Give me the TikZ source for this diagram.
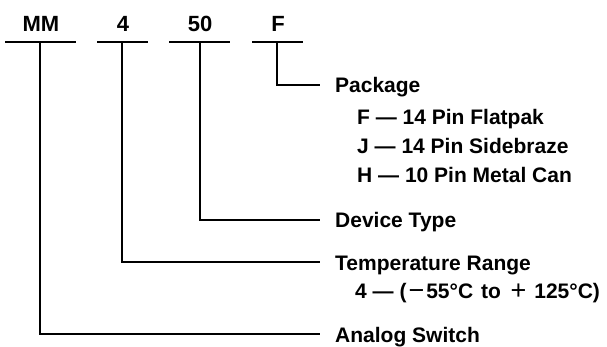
\documentclass[tikz,border=0pt]{standalone}
\usepackage{fontspec}
\setmainfont{Liberation Sans}
\usepackage{tikz}
\usetikzlibrary{positioning}
\tikzset{
  code/.style={font=\fontsize{22}{22}\selectfont\bfseries,inner sep=0pt},
  desc/.style={font=\fontsize{21}{24}\selectfont\bfseries,inner sep=0pt,anchor=base west},
  lbl/.style={anchor=base west,yshift=-8pt},
  bar/.style={line width=2pt},
  lead/.style={line width=1.7pt},
}
\newcommand{\thinsign}[1]{{\fontsize{27}{24}\selectfont\mdseries\raisebox{-1.5pt}{#1}}}

\begin{document}
\begin{tikzpicture}[x=1pt,y=-1pt,node distance=15pt]
  \useasboundingbox (0,0) rectangle (607,347);
  % part number fields
  \node[code] (mm)    at (41,24)  {MM};
  \node[code] (temp)  at (123,24) {4};
  \node[code] (dev)   at (200,24) {50};
  \node[code] (pack)  at (278,24) {F};
  \foreach \a/\b in {5/76,97/148,169/230,252/303}
    \draw[bar] (\a,42) -- (\b,42);

  \coordinate (mmbar)   at (40,42);
  \coordinate (tempbar) at (122,42);
  \coordinate (devbar)  at (200,42);
  \coordinate (packbar) at (277,42);

  \coordinate (packend) at (320,85);
  \coordinate (devend)  at (320,220);
  \coordinate (tempend) at (320,262);
  \coordinate (mmend)   at (320,334);

  % descriptions
  \node[desc,right=of packend,lbl] (packtxt) {Package};
  \node[desc] (packF) at (357,125) {F — 14 Pin Flatpak};
  \node[desc] (packJ) at (357,154) {J — 14 Pin Sidebraze};
  \node[desc] (packH) at (357,183) {H — 10 Pin Metal Can};
  \node[desc,right=of devend,lbl] (devtxt) {Device Type};
  \node[desc,right=of tempend,lbl] (temptxt) {Temperature Range};
  \node[desc] (temp4) at (355,298)
    {4 — (\kern2pt\thinsign{−}\kern2pt55°C\kern2pt\ to\kern4pt\ \thinsign{+}\kern2pt\ 125°C)};
  \node[desc,right=of mmend,lbl] (mmtxt) {Analog Switch};

  \draw[lead] (packbar) |- (packend);
  \draw[lead] (devbar) |- (devend);
  \draw[lead] (tempbar) |- (tempend);
  \draw[lead] (mmbar) |- (mmend);
\end{tikzpicture}
\end{document}
